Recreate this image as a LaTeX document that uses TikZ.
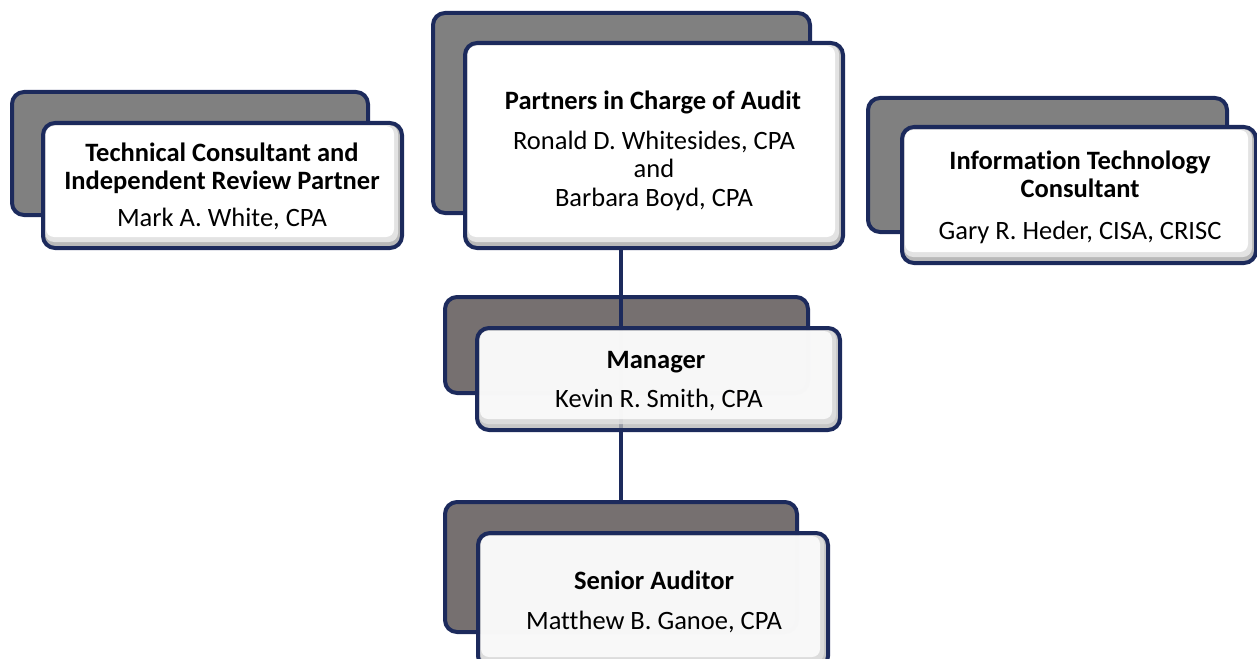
\documentclass[tikz,border=0pt]{standalone}
\usepackage{fontspec}
\setmainfont{Carlito}[Ligatures=NoCommon]
\definecolor{navy}{RGB}{28,42,92}
\definecolor{backgray}{RGB}{128,128,128}
\definecolor{backgrayb}{RGB}{118,112,112}
\tikzset{
  backbox/.style={draw=navy, line width=4pt, fill=backgray, rounded corners=12pt,
    inner sep=0pt, minimum width=#1},
  frontbox/.style={draw=navy, line width=4pt, fill=gray!55, rounded corners=12pt, inner sep=0pt,
    path picture={
      \fill[gray!22, rounded corners=9pt]
        ([shift={(2pt,-2pt)}]path picture bounding box.north west) rectangle
        ([shift={(-4pt,6pt)}]path picture bounding box.south east);
      \fill[white, rounded corners=8pt]
        ([shift={(3pt,-3pt)}]path picture bounding box.north west) rectangle
        ([shift={(-8pt,11pt)}]path picture bounding box.south east);
    }},
  titletext/.style={font={\fontsize{26.5}{28.5}\selectfont\bfseries}, align=center, inner sep=0pt},
  nametext/.style={font={\fontsize{26.5}{28.5}\selectfont}, align=center, inner sep=0pt},
  conn/.style={draw=navy, line width=3.5pt},
}
\begin{document}
\begin{tikzpicture}[x=1pt, y=-1pt]
\useasboundingbox (0,0) rectangle (1257,658);
% boxes
\node[backbox=356pt, minimum height=123pt] (tcB) at (190,153.5) {};
\node[frontbox, minimum width=359pt, minimum height=125pt] (tcF) at (222.5,185.5) {};

\node[backbox=377pt, minimum height=200pt] (paB) at (621.5,113) {};
\node[frontbox, minimum width=378pt, minimum height=205pt] (paF) at (654,145.5) {};

\node[backbox=359pt, minimum height=134pt] (itB) at (1047.5,165) {};
\node[frontbox, minimum width=354pt, minimum height=136pt] (itF) at (1079,195) {};

\node[backbox=363pt, minimum height=96pt, fill=backgrayb] (mgB) at (626.5,345) {};
\node[backbox=352pt, minimum height=130pt, fill=backgrayb] (saB) at (621,567) {};

\draw[conn] (saB.north |- paF.south) -- (saB.north);

\node[frontbox, minimum width=363pt, minimum height=102pt, fill opacity=0.8] (mgF) at (658.5,379) {};
\node[frontbox, minimum width=350pt, minimum height=135pt, fill opacity=0.8] (saF) at (653,600.5) {};

% texts
\node[titletext] (tcT) at (222,168.5) {Technical Consultant and\\Independent Review Partner};
\node[nametext] (tcN) at (222,219) {Mark A. White, CPA};

\node[titletext] (paT) at (653,102) {Partners in Charge of Audit};
\node[nametext] (paN) at (654,170.5) {Ronald D. Whitesides, CPA\\and\\Barbara Boyd, CPA};

\node[titletext] (itT) at (1080,174.5) {Information Technology\\Consultant};
\node[nametext] (itN) at (1080,232) {Gary R. Heder, CISA, CRISC};

\node[titletext] (mgT) at (656,362) {Manager};
\node[nametext] (mgN) at (659,400) {Kevin R. Smith, CPA};

\node[titletext] (saT) at (654,580) {Senior Auditor};
\node[nametext] (saN) at (654,622) {Matthew B. Ganoe, CPA};
\end{tikzpicture}
\end{document}
